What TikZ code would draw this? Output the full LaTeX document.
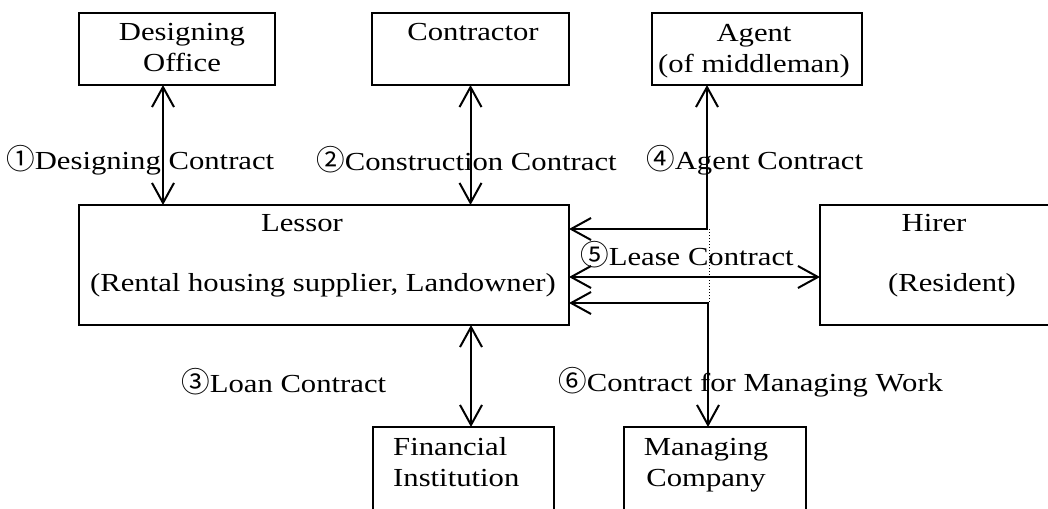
\documentclass[tikz,border=0pt]{standalone}
\usepackage{fontspec}
\setmainfont{Liberation Serif}[FakeStretch=1.18]
\newfontfamily\cjkf{Noto Sans CJK JP}[Scale=1.1]
\newcommand{\cn}[1]{{\cjkf #1}}
\usetikzlibrary{arrows.meta,calc}
\tikzset{
  box/.style={draw, line width=2pt, inner sep=0pt, outer sep=0pt},
  arr/.style={line width=2pt, {Straight Barb[length=20pt,width=22pt,line width=2pt]}-{Straight Barb[length=20pt,width=22pt,line width=2pt]}},
  tx/.style={inner sep=0pt, font=\fontsize{26pt}{31pt}\selectfont, align=center},
  lbl/.style={tx, anchor=west}
}
\begin{document}
\begin{tikzpicture}[x=1pt,y=-1pt]
\useasboundingbox (0,0) rectangle (1048,508);
\clip (0,0) rectangle (1048,508);
\fill[white] (0,0) rectangle (1048,508);
% boxes
\node[box, minimum width=196pt, minimum height=72pt] (des) at (177,49) {};
\node[box, minimum width=197pt, minimum height=72pt] (con) at (470.5,49) {};
\node[box, minimum width=210pt, minimum height=72pt] (agt) at (757,49) {};
\node[box, minimum width=490pt, minimum height=120pt] (les) at (324,265) {};
\node[box, minimum width=250pt, minimum height=120pt] (hir) at (945,265) {};
\node[box, minimum width=181pt, minimum height=113pt] (fin) at (463.5,483.5) {};
\node[box, minimum width=182pt, minimum height=113pt] (man) at (715,483.5) {};
% box texts
\node[tx] (tdes) at (182,48) {Designing\\Office};
\node[tx] (tcon) at (473,32) {Contractor};
\node[tx] (tagt) at (754,51) {Agent\\(of middleman)};
\node[tx] (tles1) at (302,223) {Lessor};
\node[tx] (tles2) at (323,285) {(Rental housing supplier, Landowner)};
\node[tx] (thir1) at (934,223) {Hirer};
\node[tx] (thir2) at (952,285) {(Resident)};
\node[tx, anchor=west, align=left] (tfin) at (393,462) {Financial\\Institution};
\node[tx] (tman) at (706,465) {Managing\\Company};
% connectors
\coordinate (d1) at ($(des.south)+(-14,0)$);
\draw[arr] (d1) -- (d1 |- les.north);
\draw[arr] (con.south) -- (con.south |- les.north);
\draw[arr] ($(agt.south)+(-50,0)$) |- ($(les.north east)+(0,24)$);
\draw[arr] ($(les.north east)+(0,72)$) -- ($(hir.north west)+(0,72)$);
\draw[arr] ($(les.north east)+(0,98)$) -| ($(man.north)+(-7,0)$);
\draw[dotted, line width=1pt] ($(les.north east)+(140,24)$) -- ($(les.north east)+(140,98)$);
\coordinate (f1) at ($(fin.north)+(7.5,0)$);
\draw[arr] (f1 |- les.south) -- (f1);
% labels
\node[lbl] (l1) at (6,160) {\cn{①}Designing Contract};
\node[lbl] (l2) at (316,160) {\cn{②}Construction Contract};
\node[lbl] (l4) at (646,160) {\cn{④}Agent Contract};
\node[lbl] (l5) at (580,255) {\cn{⑤}Lease Contract};
\node[lbl] (l3) at (181,382) {\cn{③}Loan Contract};
\node[lbl] (l6) at (558,382) {\cn{⑥}Contract for Managing Work};
\end{tikzpicture}
\end{document}
